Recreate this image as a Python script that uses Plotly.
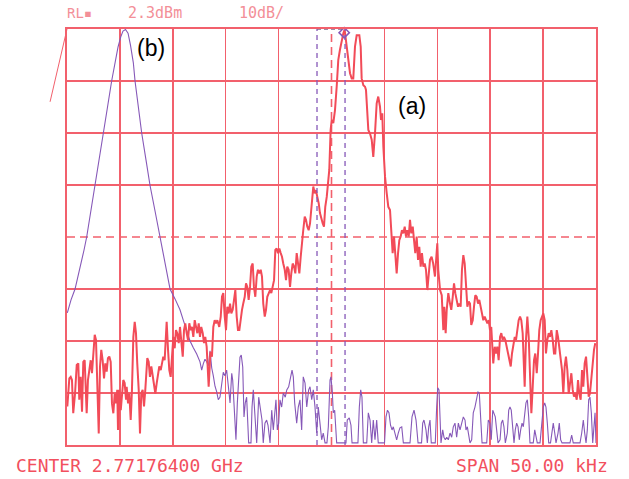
import plotly.graph_objects as go

# Frequency offset from centre (kHz) and level (dBm), trace (a) - red
freq_a = [-24.97,-24.78,-24.65,-24.53,-24.41,-24.24,-24.08,-23.93,-23.84,-23.71,-23.58,-23.46,-23.33,-23.20,-23.14,-23.02,-22.89,-22.76,-22.64,-22.51,-22.38,-22.26,-22.14,-22.00,-21.88,-21.76,-21.63,-21.50,-21.38,-21.25,-21.13,-21.00,-20.87,-20.75,-20.62,-20.49,-20.37,-20.25,-20.18,-20.06,-19.92,-19.80,-19.68,-19.55,-19.42,-19.36,-19.23,-19.11,-18.98,-18.86,-18.73,-18.60,-18.48,-18.36,-18.22,-18.10,-17.98,-17.85,-17.72,-17.60,-17.41,-17.28,-17.16,-17.03,-16.90,-16.78,-16.65,-16.52,-16.40,-16.28,-16.14,-16.02,-15.90,-15.77,-15.64,-15.58,-15.45,-15.33,-15.20,-15.08,-14.95,-14.82,-14.70,-14.58,-14.44,-14.32,-14.20,-14.06,-13.94,-13.82,-13.69,-13.56,-13.44,-13.31,-13.19,-13.06,-12.93,-12.81,-12.68,-12.55,-12.43,-12.31,-12.17,-12.05,-11.93,-11.80,-11.61,-11.44,-11.30,-11.17,-11.04,-10.92,-10.79,-10.61,-10.47,-10.35,-10.23,-10.09,-9.97,-9.85,-9.72,-9.59,-9.47,-9.34,-9.22,-9.09,-8.96,-8.84,-8.71,-8.58,-8.46,-8.34,-8.20,-8.08,-7.96,-7.83,-7.70,-7.58,-7.45,-7.33,-7.20,-7.07,-6.95,-6.82,-6.69,-6.57,-6.45,-6.31,-6.19,-6.07,-5.94,-5.81,-5.69,-5.56,-5.43,-5.31,-5.18,-5.06,-4.93,-4.80,-4.68,-4.56,-4.42,-4.30,-4.18,-4.05,-3.92,-3.80,-3.67,-3.54,-3.42,-3.29,-3.17,-3.04,-2.91,-2.79,-2.67,-2.53,-2.41,-2.29,-2.16,-2.03,-1.84,-1.72,-1.59,-1.47,-1.34,-1.21,-1.09,-0.96,-0.83,-0.71,-0.59,-0.45,-0.33,-0.21,-0.08,0.02,0.17,0.33,0.49,0.64,0.80,0.96,1.12,1.24,1.44,1.59,1.75,1.91,2.06,2.22,2.38,2.63,2.76,2.85,3.01,3.17,3.26,3.48,3.64,3.80,3.95,4.11,4.27,4.42,4.58,4.68,4.80,4.90,5.06,5.22,5.37,5.53,5.69,5.78,5.91,6.03,6.16,6.29,6.41,6.54,6.66,6.79,6.92,7.04,7.16,7.30,7.42,7.54,7.68,7.80,7.92,8.05,8.18,8.30,8.43,8.55,8.68,8.81,8.93,9.06,9.19,9.31,9.46,9.61,9.78,9.94,10.00,10.09,10.26,10.42,10.57,10.66,10.79,10.89,11.04,11.20,11.32,11.46,11.58,11.70,11.83,11.96,12.08,12.21,12.33,12.46,12.59,12.71,12.84,12.97,13.09,13.21,13.35,13.47,13.59,13.72,13.85,13.97,14.10,14.23,14.35,14.48,14.60,14.73,14.86,14.98,15.10,15.17,15.29,15.43,15.55,15.67,15.80,15.93,16.05,16.18,16.30,16.43,16.56,16.68,16.81,16.94,17.06,17.18,17.32,17.44,17.56,17.69,17.82,17.94,18.07,18.20,18.26,18.38,18.51,18.64,18.76,18.89,19.02,19.14,19.26,19.40,19.52,19.64,19.77,19.90,20.02,20.15,20.27,20.40,20.53,20.65,20.78,20.91,21.03,21.15,21.29,21.41,21.53,21.66,21.79,21.91,22.04,22.16,22.29,22.42,22.54,22.67,22.80,22.92,23.04,23.18,23.30,23.42,23.55,23.68,23.80,23.93,24.06,24.18,24.31,24.43,24.56,24.69,24.81,24.93]
level_a = [-70.3,-64.9,-64.6,-65.2,-71.6,-67.8,-62.3,-62.0,-69.0,-64.6,-71.3,-61.7,-61.4,-67.1,-71.6,-65.2,-63.3,-61.4,-63.9,-60.1,-56.5,-57.5,-64.6,-75.5,-62.6,-59.4,-61.4,-64.9,-62.0,-63.6,-61.0,-60.7,-61.7,-69.7,-71.6,-67.8,-69.7,-67.1,-74.8,-67.1,-71.0,-67.1,-65.2,-65.8,-69.0,-66.5,-69.7,-67.8,-72.9,-67.1,-56.9,-54.0,-56.2,-62.0,-67.1,-75.5,-67.8,-67.1,-70.3,-67.1,-61.0,-61.7,-64.6,-62.6,-64.6,-65.8,-67.8,-65.8,-63.6,-62.6,-63.3,-62.3,-60.7,-61.4,-55.0,-54.0,-59.4,-63.3,-64.6,-60.7,-56.9,-59.1,-55.6,-56.2,-58.1,-55.0,-57.5,-60.7,-55.6,-54.3,-56.2,-57.5,-54.3,-55.6,-55.0,-56.9,-53.7,-55.0,-56.2,-54.3,-56.9,-55.0,-56.2,-58.1,-56.9,-58.8,-66.5,-59.8,-60.7,-55.0,-53.7,-54.3,-53.7,-55.0,-53.0,-49.2,-48.5,-53.0,-55.6,-51.1,-52.4,-50.5,-52.4,-51.7,-49.2,-47.9,-53.0,-55.6,-55.6,-53.0,-51.7,-50.5,-49.2,-46.6,-47.3,-49.8,-47.3,-43.4,-42.8,-47.3,-49.2,-45.3,-44.0,-44.7,-44.0,-45.3,-50.5,-53.0,-51.7,-49.2,-48.5,-47.9,-48.5,-47.3,-46.0,-40.2,-39.9,-40.8,-39.9,-40.8,-41.5,-42.8,-44.0,-46.0,-43.4,-44.0,-47.3,-44.7,-42.8,-43.4,-44.7,-40.8,-42.8,-44.7,-41.5,-38.3,-36.4,-33.8,-34.4,-35.7,-36.4,-35.1,-30.0,-28.0,-29.3,-28.7,-30.0,-31.2,-33.1,-34.4,-35.1,-35.7,-31.9,-30.0,-26.7,-24.8,-17.1,-15.2,-15.8,-13.3,-8.8,-3.7,-1.7,0.2,1.5,2.2,-1.1,-3.7,-6.2,-7.2,-7.2,-1.1,1.1,1.1,-1.1,-7.2,-8.5,-8.8,-9.4,-17.1,-17.8,-19.0,-22.3,-17.8,-12.0,-10.7,-12.6,-15.2,-13.9,-20.3,-26.1,-29.3,-31.9,-32.5,-37.0,-40.8,-37.6,-42.1,-44.7,-40.8,-38.3,-37.6,-36.4,-37.0,-35.7,-37.6,-36.4,-37.6,-34.4,-37.0,-35.7,-38.3,-40.8,-37.6,-42.1,-39.6,-43.4,-40.8,-43.4,-42.8,-44.0,-47.9,-44.7,-42.1,-41.5,-42.8,-45.3,-39.6,-38.9,-44.0,-47.9,-48.9,-55.6,-51.1,-56.2,-51.7,-48.5,-50.5,-51.7,-49.2,-46.6,-48.5,-49.8,-51.1,-50.5,-51.1,-44.0,-41.2,-42.8,-47.3,-51.1,-50.1,-50.5,-54.6,-53.7,-51.1,-48.9,-49.2,-50.5,-49.8,-51.1,-52.4,-53.7,-53.0,-53.7,-54.3,-53.7,-55.6,-55.0,-56.9,-62.0,-58.8,-60.1,-58.8,-61.4,-56.9,-56.2,-57.5,-56.9,-57.5,-58.8,-60.7,-62.0,-62.6,-60.1,-58.1,-56.9,-57.5,-55.6,-53.7,-53.0,-53.7,-56.2,-61.4,-66.5,-57.5,-53.0,-56.9,-66.5,-71.6,-66.5,-61.4,-60.1,-63.9,-60.1,-55.6,-53.7,-53.0,-52.4,-53.7,-60.1,-57.5,-56.2,-56.9,-55.6,-57.5,-60.1,-60.1,-55.6,-56.9,-58.8,-61.4,-63.3,-67.8,-62.6,-60.7,-63.3,-67.8,-65.8,-63.9,-67.1,-68.4,-67.8,-69.0,-65.2,-67.8,-69.0,-63.3,-66.5,-62.0,-60.7,-65.2,-68.4,-67.8,-64.6,-61.4,-59.4,-58.1]

# Trace (b) - purple
freq_b = [-24.97,-24.62,-24.24,-23.77,-23.39,-23.14,-22.83,-22.35,-21.98,-21.57,-21.17,-20.78,-20.46,-20.18,-19.92,-19.71,-19.47,-19.23,-19.00,-18.73,-18.57,-18.29,-17.94,-17.53,-17.16,-16.68,-16.21,-15.74,-15.26,-14.79,-14.32,-14.01,-13.69,-13.37,-13.06,-12.74,-12.43,-12.27,-12.12,-11.96,-11.80,-11.64,-11.48,-11.32,-11.17,-11.01,-10.85,-10.70,-10.54,-10.38,-10.23,-10.07,-9.91,-9.75,-9.59,-9.43,-9.34,-9.22,-9.03,-8.90,-8.77,-8.65,-8.53,-8.39,-8.27,-8.15,-8.02,-7.83,-7.61,-7.51,-7.39,-7.20,-7.07,-6.88,-6.76,-6.57,-6.45,-6.29,-6.13,-6.00,-5.81,-5.65,-5.50,-5.25,-5.12,-4.99,-4.87,-4.71,-4.56,-4.37,-4.23,-4.05,-3.86,-3.73,-3.61,-3.48,-3.29,-3.14,-2.98,-2.82,-2.67,-2.50,-2.34,-2.16,-2.03,-1.87,-1.72,-1.56,-1.40,-1.25,-1.09,-0.93,-0.78,-0.61,-0.43,-0.30,-0.14,-0.05,0.08,0.17,0.30,0.49,1.37,1.49,1.68,1.84,1.94,2.50,2.63,2.76,2.88,3.01,3.33,3.48,3.64,3.80,3.95,4.11,4.27,4.42,5.01,5.15,5.29,5.43,5.58,5.72,5.84,6.00,6.16,6.31,6.47,6.64,6.79,7.42,7.61,7.80,7.99,8.18,8.51,8.62,8.74,8.93,9.06,9.19,9.31,9.43,9.81,9.94,10.04,10.16,10.26,10.35,10.51,10.63,10.76,10.89,11.04,11.20,11.36,11.51,11.67,11.83,11.99,12.15,12.31,12.46,12.62,12.71,12.84,12.97,13.09,13.25,13.40,13.56,13.72,13.85,13.97,14.10,14.23,14.67,14.82,14.98,15.10,15.24,15.36,15.48,15.61,15.74,15.93,16.05,16.18,16.30,16.43,16.62,16.75,16.87,16.99,17.13,17.25,17.37,17.50,17.63,17.75,17.88,18.01,18.13,18.26,18.38,18.51,18.64,18.76,19.07,19.21,19.33,19.45,19.71,19.87,20.02,20.15,20.27,20.40,20.53,20.70,20.84,20.96,21.10,21.22,21.41,21.53,21.66,21.79,22.54,22.70,22.85,23.49,23.65,23.80,23.93,24.06,24.18,24.31,24.43,24.56,24.69,24.81,24.91,25.00]
level_b = [-52.3,-49.8,-47.7,-43.7,-40.2,-37.7,-33.9,-27.7,-22.9,-17.7,-12.7,-7.7,-4.0,-1.2,0.8,1.9,2.2,1.5,-0.8,-4.2,-7.7,-12.5,-17.7,-22.9,-27.7,-32.7,-37.7,-42.7,-47.7,-49.6,-51.7,-53.7,-55.6,-57.7,-59.0,-60.2,-61.7,-63.3,-62.1,-61.2,-61.7,-62.5,-59.6,-62.9,-64.4,-66.4,-67.5,-69.0,-68.5,-65.8,-63.7,-64.4,-63.3,-66.4,-69.6,-63.9,-65.2,-69.6,-76.7,-69.6,-63.3,-60.8,-60.4,-62.7,-72.3,-69.6,-68.5,-77.3,-77.3,-70.4,-67.1,-72.3,-77.3,-68.5,-70.4,-72.9,-77.3,-73.5,-72.9,-73.9,-77.3,-71.0,-74.8,-69.0,-74.8,-73.5,-69.0,-70.4,-67.7,-68.5,-67.1,-66.5,-64.6,-63.3,-64.6,-69.6,-73.5,-70.4,-69.0,-74.8,-64.6,-65.8,-70.4,-67.1,-66.5,-69.0,-67.1,-70.4,-75.4,-70.4,-73.5,-76.7,-75.4,-77.3,-77.3,-74.2,-65.2,-64.6,-67.7,-71.5,-71.0,-77.3,-77.3,-72.9,-72.5,-73.9,-77.3,-77.3,-70.4,-67.1,-68.5,-77.3,-77.3,-71.5,-72.9,-77.3,-72.9,-76.7,-72.9,-77.3,-77.3,-72.3,-71.0,-71.5,-73.9,-74.8,-74.2,-75.8,-76.7,-75.4,-74.4,-74.2,-77.3,-77.3,-72.3,-71.0,-72.9,-77.3,-77.3,-73.5,-72.9,-74.8,-77.3,-74.2,-72.9,-77.3,-77.3,-70.4,-66.7,-67.1,-73.5,-77.3,-74.8,-76.2,-76.7,-76.2,-76.7,-75.4,-76.2,-74.2,-73.5,-76.2,-73.5,-74.8,-73.5,-72.3,-72.9,-74.8,-74.2,-76.2,-77.3,-76.7,-71.5,-70.4,-69.0,-67.5,-67.7,-71.5,-77.3,-77.3,-72.9,-73.5,-76.7,-71.0,-71.5,-72.3,-74.8,-77.3,-76.7,-73.5,-72.9,-74.2,-77.3,-75.4,-71.0,-70.4,-71.0,-74.8,-77.3,-74.8,-73.5,-74.2,-76.7,-74.8,-73.5,-74.2,-72.3,-69.6,-69.0,-72.3,-77.3,-77.3,-74.8,-76.2,-77.3,-77.3,-74.2,-70.4,-69.6,-70.4,-73.5,-77.3,-77.3,-75.4,-73.5,-75.4,-77.3,-75.4,-73.5,-76.7,-77.3,-77.3,-75.8,-77.3,-77.3,-75.4,-72.9,-75.4,-77.3,-74.8,-69.0,-68.5,-71.5,-77.3,-73.5,-71.5,-77.3]

# Instrument settings
ref_level = 2.3          # dBm (top graticule line)
db_per_div = 10
span_khz = 50.0
n_xdiv, n_ydiv = 10, 8
marker_f, marker_level = [1.2], [1.6]
markers_f = [-1.37, 1.28]   # purple dashed marker lines
center_f = 0.0

header_rl = "RL▪"
header_ref = "2.3dBm"
header_scale = "10dB/"
footer_center = "CENTER 2.77176400 GHz"
footer_span = "SPAN 50.00 kHz"

x_lo, x_hi = -span_khz / 2, span_khz / 2
y_hi = ref_level
y_lo = ref_level - db_per_div * n_ydiv
y_mid = ref_level - db_per_div * n_ydiv / 2

xgrid = [x_lo + i * span_khz / n_xdiv for i in range(1, n_xdiv) if i != n_xdiv // 2]
ygrid = [y_lo + i * db_per_div for i in range(1, n_ydiv) if i != n_ydiv // 2]

GRID = "#f2606c"
RED = "#f24b58"
PURPLE = "#8658b8"
TXT = "#f2505e"

fig = go.Figure()
fig.add_trace(go.Scatter(x=freq_b, y=level_b, mode="lines",
                         line=dict(color=PURPLE, width=1.1), hoverinfo="skip"))
fig.add_trace(go.Scatter(x=freq_a, y=level_a, mode="lines",
                         line=dict(color=RED, width=2.0), hoverinfo="skip"))
fig.add_trace(go.Scatter(x=marker_f, y=marker_level, mode="markers",
                         marker=dict(symbol="diamond-open", size=8, color=PURPLE,
                                     line=dict(width=1.5)),
                         cliponaxis=False, hoverinfo="skip"))

shapes = []
# dashed centre lines
shapes.append(dict(type="line", xref="x", yref="y", x0=center_f, x1=center_f, y0=y_lo, y1=y_hi,
                   line=dict(color=GRID, width=1.6, dash="8px,5px"), layer="below"))
shapes.append(dict(type="line", xref="x", yref="y", x0=x_lo, x1=x_hi, y0=y_mid, y1=y_mid,
                   line=dict(color=GRID, width=1.6, dash="8px,5px"), layer="below"))
for mf in markers_f:
    shapes.append(dict(type="line", xref="x", yref="y", x0=mf, x1=mf, y0=y_lo, y1=y_hi,
                       line=dict(color=PURPLE, width=1.3, dash="5px,4px"), layer="above"))
shapes.append(dict(type="line", xref="x", yref="y", x0=markers_f[0], x1=markers_f[1], y0=y_hi, y1=y_hi,
                   line=dict(color="#7a6a8a", width=1.3, dash="4px,3px"), layer="above"))
# pen artifact at top-left
shapes.append(dict(type="line", xref="paper", yref="paper", x0=0.0, y0=1.0, x1=-0.032, y1=0.825,
                   line=dict(color=GRID, width=1.0)))

fig.update_layout(
    width=629, height=479,
    margin=dict(l=67, r=33, t=29, b=34),
    paper_bgcolor="white", plot_bgcolor="white",
    showlegend=False,
    hovermode=False,
    shapes=shapes,
    xaxis=dict(range=[x_lo, x_hi], tickvals=xgrid, showticklabels=False, ticks="",
               showgrid=True, gridcolor=GRID, gridwidth=1.5, zeroline=False,
               showline=True, linecolor=GRID, linewidth=1.6, mirror=True),
    yaxis=dict(range=[y_lo, y_hi], tickvals=ygrid, showticklabels=False, ticks="",
               showgrid=True, gridcolor=GRID, gridwidth=1.5, zeroline=False,
               showline=True, linecolor=GRID, linewidth=1.6, mirror=True),
    annotations=[
        dict(text=header_rl, x=-0.004, y=1.038, xref="paper", yref="paper", xanchor="left",
             yanchor="middle", showarrow=False, font=dict(family="DejaVu Sans Mono", size=14, color="#f38f98")),
        dict(text=header_ref, x=0.1115, y=1.038, xref="paper", yref="paper", xanchor="left",
             yanchor="middle", showarrow=False, font=dict(family="DejaVu Sans Mono", size=15, color="#f38f98")),
        dict(text=header_scale, x=0.3214, y=1.038, xref="paper", yref="paper", xanchor="left",
             yanchor="middle", showarrow=False, font=dict(family="DejaVu Sans Mono", size=15, color="#f38f98")),
        dict(text=footer_center, x=-0.1002, y=-0.05, xref="paper", yref="paper", xanchor="left",
             yanchor="middle", showarrow=False, font=dict(family="DejaVu Sans Mono", size=18, color=TXT)),
        dict(text=footer_span, x=1.0265, y=-0.05, xref="paper", yref="paper", xanchor="right",
             yanchor="middle", showarrow=False, font=dict(family="DejaVu Sans Mono", size=18, color=TXT)),
        dict(text="(a)", x=0.652, y=0.815, xref="paper", yref="paper", xanchor="center",
             yanchor="middle", showarrow=False, font=dict(family="Liberation Sans", size=23, color="black")),
        dict(text="(b)", x=0.159, y=0.954, xref="paper", yref="paper", xanchor="center",
             yanchor="middle", showarrow=False, font=dict(family="Liberation Sans", size=23, color="black")),
    ],
)

# remove the default 8px page margin so the figure fills the window exactly
fig.write_html("out.html", config={"displayModeBar": False, "staticPlot": True},
               post_script="document.body.style.margin='0';document.body.style.overflow='hidden';")
